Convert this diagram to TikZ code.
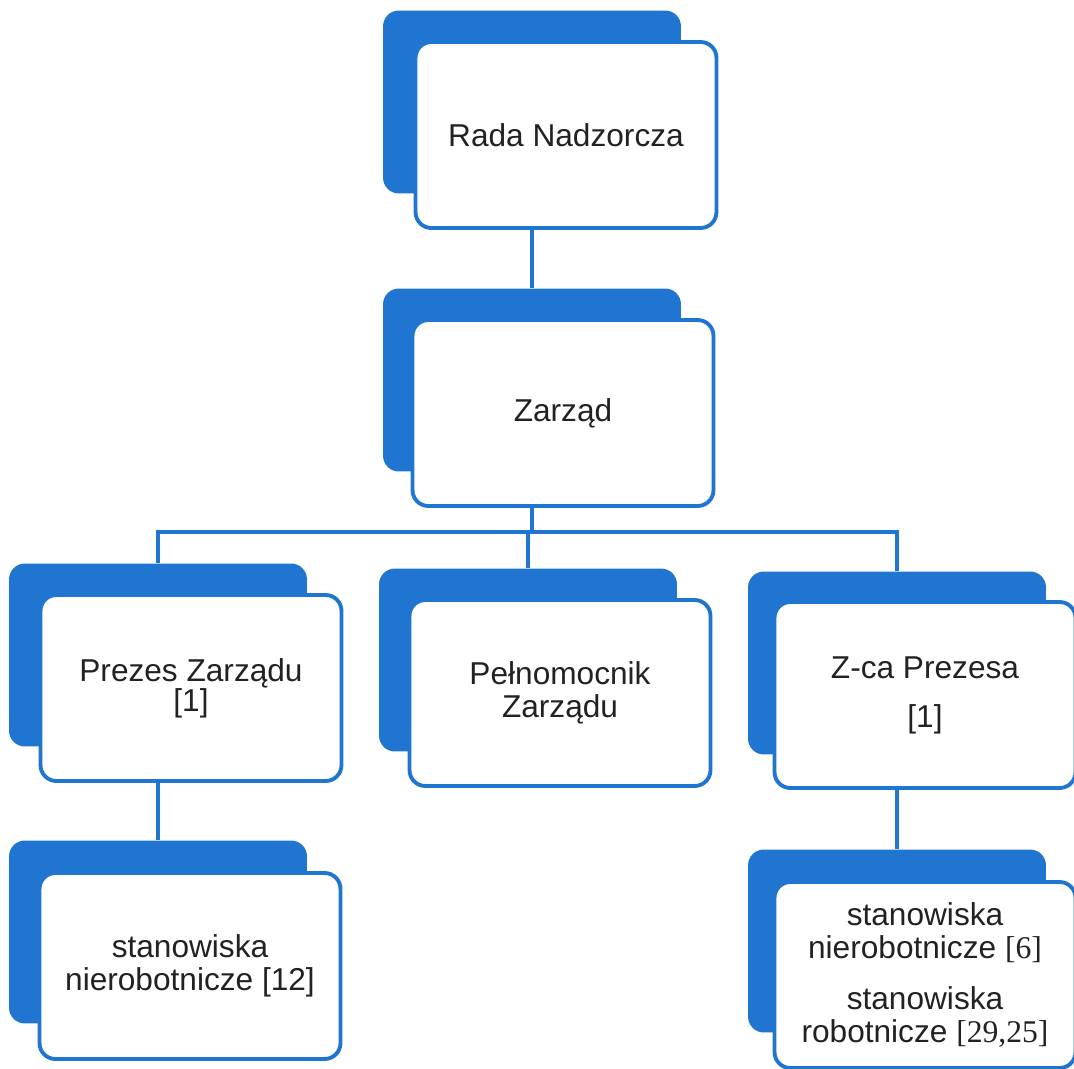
\documentclass[tikz,border=0pt]{standalone}
\usepackage{fontspec}
\setmainfont{Liberation Sans}
\newfontfamily\numfont{Liberation Serif}
\usepackage{tikz}
\definecolor{orgblue}{RGB}{31,117,208}
\definecolor{orgtext}{RGB}{34,34,34}
\tikzset{
	backstyle/.style={rectangle,rounded corners=9pt,fill=orgblue,minimum width=5.96cm,minimum height=3.66cm},
	frontstyle/.style={rectangle,rounded corners=9pt,draw=orgblue,line width=2.2pt,fill=white,text=orgtext,
		minimum width=6.02cm,minimum height=3.72cm,align=center,font=\fontsize{18}{19}\selectfont},
	linkstyle/.style={draw=orgblue,line width=2.3pt}
}

\begin{document}
\begin{tikzpicture}[x=0.02cm,y=-0.02cm]
	\useasboundingbox (0,0) rectangle (1074,1068);
	\node[backstyle] (radab) at (532,102) {};
	\node[frontstyle] (rada) at (566,135) {Rada Nadzorcza};
	\node[backstyle] (zarzadb) at (532,380) {};
	\node[frontstyle] (zarzad) at (563,413) {Zarząd};
	\node[backstyle] (prezesb) at (158,655) {};
	\node[frontstyle] (prezes) at (191,688) {Prezes Zarządu\\[-2pt][1]};
	\node[backstyle] (pelnb) at (528,660) {};
	\node[frontstyle] (peln) at (560,693) {Pełnomocnik\\Zarządu};
	\node[backstyle] (zcab) at (897,663) {};
	\node[frontstyle] (zca) at (925,695) {Z-ca Prezesa\\[9pt][1]};
	\node[backstyle] (stanlb) at (158,932) {};
	\node[frontstyle] (stanl) at (190,966) {stanowiska\\nierobotnicze [12]};
	\node[backstyle] (stanrb) at (897,941) {};
	\node[frontstyle] (stanr) at (925,975) {stanowiska\\nierobotnicze {\numfont[6]}\\[10pt]stanowiska\\robotnicze {\numfont[29,25]}};
	\coordinate (bus) at (0,532);
	\draw[linkstyle] (radab |- rada.south)--(zarzadb.north);
	\draw[linkstyle] (zarzadb |- zarzad.south)--(zarzadb |- bus);
	\draw[linkstyle] (prezesb.north)--(prezesb |- bus)--(zcab |- bus)--(zcab.north);
	\draw[linkstyle] (pelnb |- bus)--(pelnb.north);
	\draw[linkstyle] (prezesb |- prezes.south)--(stanlb.north);
	\draw[linkstyle] (zcab |- zca.south)--(stanrb.north);
\end{tikzpicture}
\end{document}
